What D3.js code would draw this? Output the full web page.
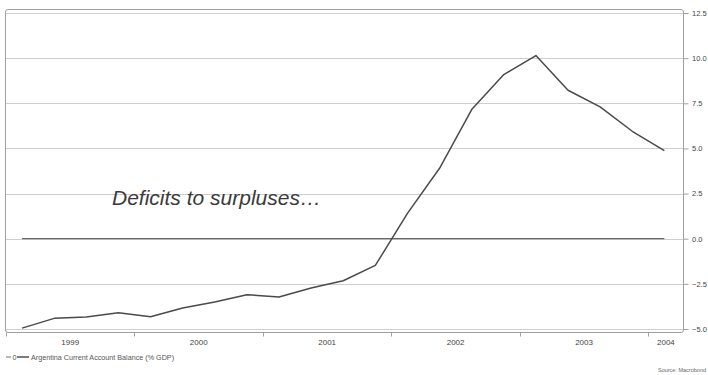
<!DOCTYPE html>
<html>
<head>
<meta charset="utf-8">
<script src="https://cdn.jsdelivr.net/npm/d3@7"></script>
<style>
  html, body { margin: 0; padding: 0; background: #fff; overflow: hidden; }
  svg { display: block; font-family: "Liberation Sans", Arial, sans-serif; }
</style>
</head>
<body>
<svg id="chart" width="708" height="375"></svg>
<script>
// Argentina current account balance, % of GDP, quarterly 1999Q1–2004Q1
const quarters = [
  "1999Q1","1999Q2","1999Q3","1999Q4",
  "2000Q1","2000Q2","2000Q3","2000Q4",
  "2001Q1","2001Q2","2001Q3","2001Q4",
  "2002Q1","2002Q2","2002Q3","2002Q4",
  "2003Q1","2003Q2","2003Q3","2003Q4",
  "2004Q1"
];
const balance = [
  -4.95, -4.41, -4.34, -4.10,
  -4.32, -3.84, -3.51, -3.10,
  -3.23, -2.73, -2.33, -1.48,
   1.40,  3.90,  7.15,  9.09,
  10.14,  8.22,  7.30,  5.95,
   4.88
];
const zeroLine = quarters.map(() => 0);
const yearLabels = ["1999", "2000", "2001", "2002", "2003", "2004"];
const yTicks = [-5.0, -2.5, 0.0, 2.5, 5.0, 7.5, 10.0, 12.5];
const seriesName = "Argentina Current Account Balance (% GDP)";
const annotation = "Deficits to surpluses\u2026";
const sourceNote = "Source: Macrobond";

const svg = d3.select("#chart");

// quarter label -> fractional year at the middle of the quarter
const qTime = q => +q.slice(0, 4) + (+q.slice(5) - 1) / 4 + 0.125;

const box = { left: 5.5, right: 683.5, top: 9.5, bottom: 332.5 };
const x = d3.scaleLinear().domain([1999, 2004.27]).range([6, 683]);
const y = d3.scaleLinear().domain([-5, 12.5]).range([329, 13]);

// horizontal gridlines
svg.append("g").selectAll("line").data(yTicks).join("line")
  .attr("x1", box.left).attr("x2", box.right)
  .attr("y1", d => Math.round(y(d)) + 0.5).attr("y2", d => Math.round(y(d)) + 0.5)
  .attr("stroke", "#cfcfcf").attr("stroke-width", 1);

// plot frame with rounded corners
svg.append("rect")
  .attr("x", box.left).attr("y", box.top)
  .attr("width", box.right - box.left).attr("height", box.bottom - box.top)
  .attr("rx", 2.5)
  .attr("fill", "none").attr("stroke", "#a0a0a0").attr("stroke-width", 1);

// right value axis
const yAxis = d3.axisRight(y).tickValues(yTicks).tickSize(5).tickPadding(3.5)
  .tickFormat(d3.format(".1f"));
const gy = svg.append("g").attr("transform", `translate(${box.right},0)`).call(yAxis);
gy.select(".domain").remove();
gy.selectAll(".tick line").attr("stroke", "#a0a0a0");
gy.selectAll(".tick text").attr("fill", "#444").style("font-size", "7.5px")
  .style("font-family", "Liberation Sans, Arial, sans-serif");

// bottom time axis: ticks on year boundaries, labels centred in each year
const yearStarts = yearLabels.map(Number);
const gx = svg.append("g").attr("transform", `translate(0,${box.bottom})`);
gx.selectAll("line").data(yearStarts).join("line")
  .attr("x1", d => Math.round(x(d)) + 0.5).attr("x2", d => Math.round(x(d)) + 0.5)
  .attr("y1", 0).attr("y2", 4)
  .attr("stroke", "#a0a0a0");
gx.selectAll("text").data(yearLabels).join("text")
  .attr("x", d => (x(+d) + Math.min(x(+d + 1), box.right)) / 2)
  .attr("y", 12)
  .attr("text-anchor", "middle")
  .attr("fill", "#444").style("font-size", "8px")
  .text(d => d);

// zero reference series
const line = d3.line().x((d, i) => x(qTime(quarters[i]))).y(d => y(d));
svg.append("path").datum(zeroLine)
  .attr("d", line).attr("fill", "none")
  .attr("stroke", "#6a6a6a").attr("stroke-width", 1.3);

// current account balance
svg.append("path").datum(balance)
  .attr("d", line).attr("fill", "none")
  .attr("stroke", "#4a4a4a").attr("stroke-width", 1.5)
  .attr("stroke-linejoin", "round");

// annotation
svg.append("text")
  .attr("x", 112).attr("y", 205)
  .attr("fill", "#3a3a3a")
  .style("font-size", "21px").style("font-style", "italic")
  .text(annotation);

// legend
const lg = svg.append("g").attr("transform", "translate(5,357)");
lg.append("line").attr("x1", 1).attr("x2", 6).attr("y1", 0).attr("y2", 0)
  .attr("stroke", "#888").attr("stroke-width", 1.2);
lg.append("text").attr("x", 7.5).attr("y", 2.5).attr("fill", "#555")
  .style("font-size", "7.2px").text("0");
lg.append("line").attr("x1", 12).attr("x2", 24).attr("y1", 0).attr("y2", 0)
  .attr("stroke", "#444").attr("stroke-width", 1.4);
lg.append("text").attr("x", 26).attr("y", 2.5).attr("fill", "#555")
  .style("font-size", "7.2px").text(seriesName);

// source note, right-aligned at the page edge
svg.append("text")
  .attr("x", 706).attr("y", 372)
  .attr("text-anchor", "end")
  .attr("fill", "#666").style("font-size", "5.5px")
  .text(sourceNote);
</script>
</body>
</html>
